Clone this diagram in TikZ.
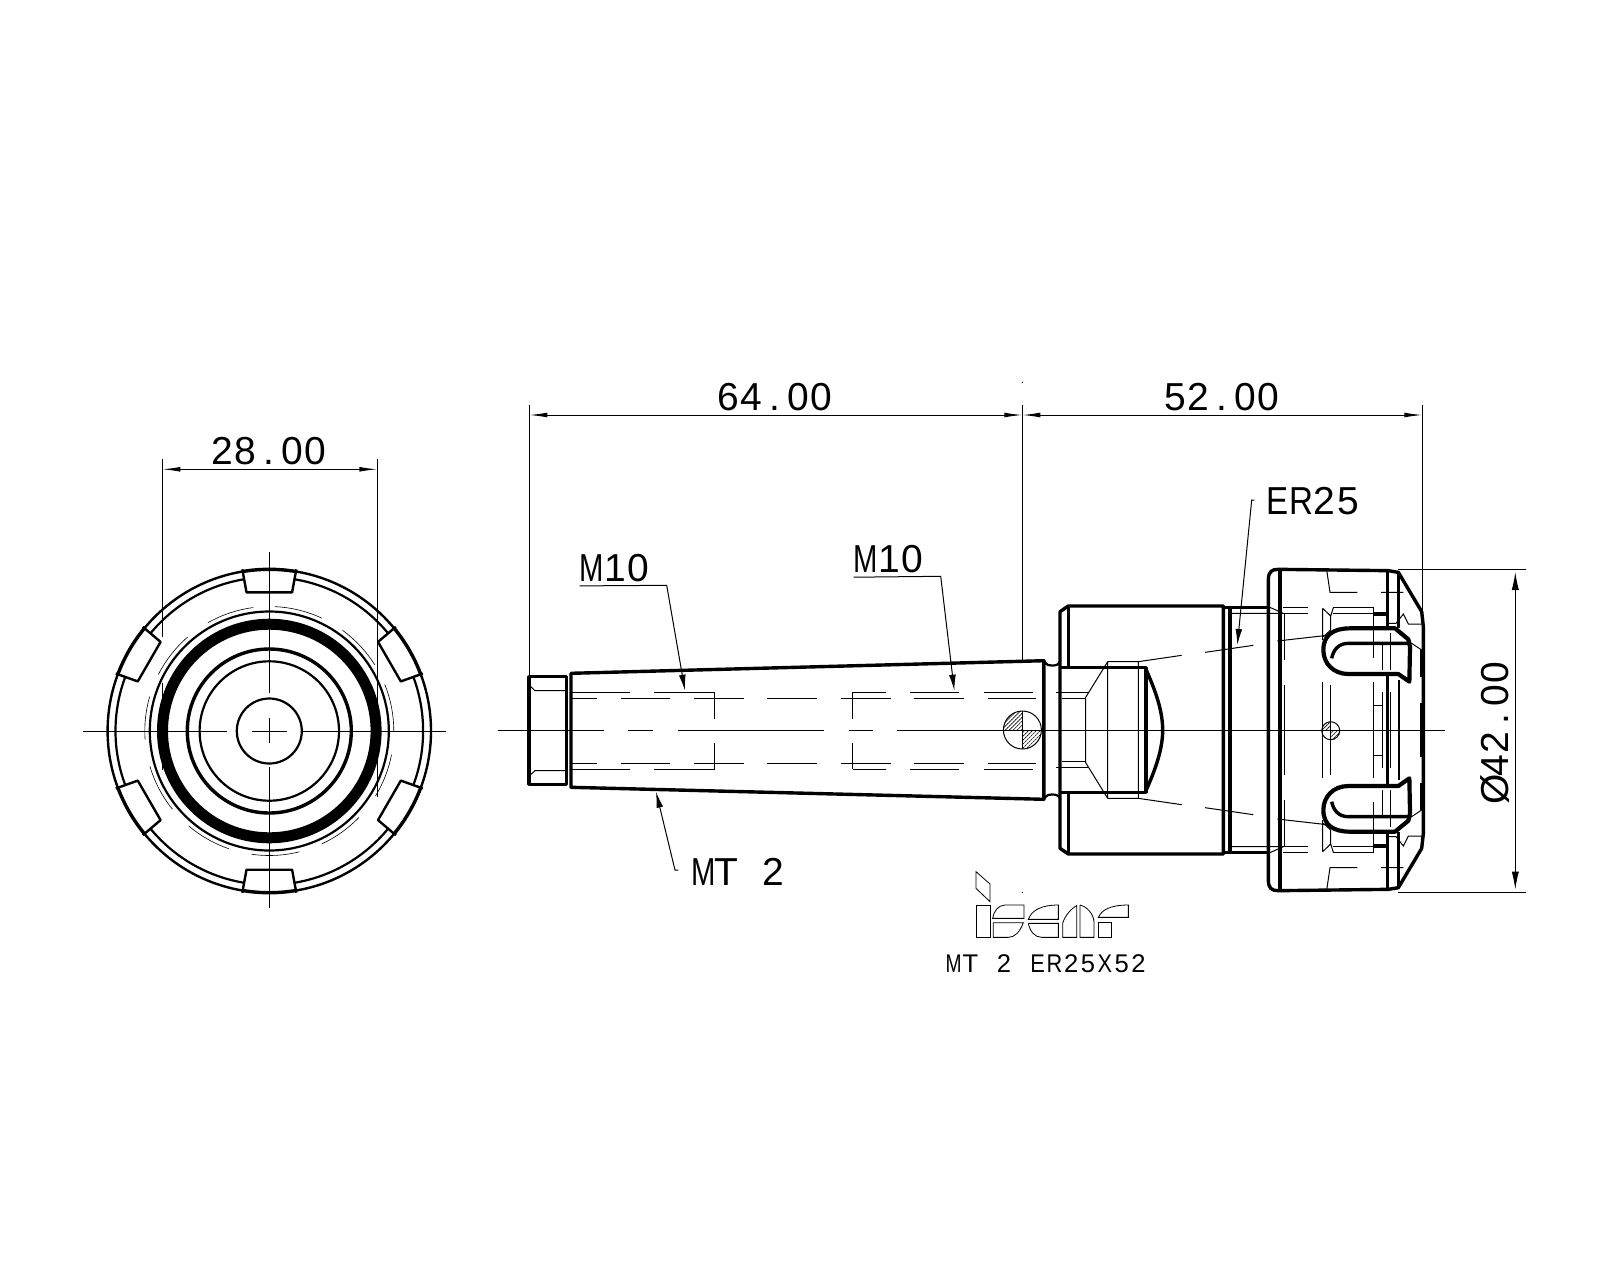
\documentclass[tikz,border=0pt]{standalone}
\usepackage{graphicx}
\usepackage{fontspec}
\usetikzlibrary{arrows.meta,patterns.meta}
\newfontfamily\cadfont{Liberation Sans}
\makeatletter
\newcommand\cadrow[2]{\@tfor\cadc:=#2\do{\makebox[#1]{\cadc}}}
\makeatother
\newcommand\cadm{\scalebox{.75}[1]{M}}
\newcommand\cade{\scalebox{.85}[1]{E}}
\newcommand\cadr{\scalebox{.85}[1]{R}}
\newcommand\cadx{\scalebox{.85}[1]{X}}
\tikzset{
  part/.style={line width=1.7pt,line join=round},
  slim/.style={line width=1.1pt,line join=round},
  fine/.style={line width=.5pt},
  dimh/.style={line width=.5pt,{Latex[length=9pt,width=2.4pt]}-{Latex[length=9pt,width=2.4pt]}},
  dimv/.style={line width=.5pt,{Latex[length=9pt,width=3.6pt]}-{Latex[length=9pt,width=3.6pt]}},
  leader/.style={line width=.5pt,-{Latex[length=8pt,width=3.4pt]}},
  lab/.style={inner sep=0pt,font=\cadfont\fontsize{19.5}{20}\selectfont},
  labsmall/.style={inner sep=0pt,font=\cadfont\fontsize{12.8}{14}\selectfont},
  hatchq/.style={pattern={Lines[angle=45,distance=1.4pt,line width=.3pt]}}
}
\begin{document}
\begin{tikzpicture}[x=.5pt,y=-.5pt]
\useasboundingbox (0,0) rectangle (1600,1280);

% end view
\begin{scope}[shift={(269.3,731)},yscale=-1]
  \draw[slim,line width=1.2pt] (0,0) circle (161.7);
  \draw[slim] (0,0) circle (153.8);
  \foreach \ang in {30,90,150,210,270,330}{
    \begin{scope}[rotate=\ang]
      \fill[white] (161.2,27) -- (138.7,22.8) -- (138.7,-22.8) -- (161.2,-27) -- cycle;
      \draw[slim,line width=1.2pt] (161.7,27) -- (138.7,22.8) -- (138.7,-22.8) -- (161.7,-27);
      \draw[part] (-9.5:161.7) arc (-9.5:9.5:161.7);
    \end{scope}
  }
  \draw[slim] (0,0) circle (32.5);
  \draw[slim] (0,0) circle (69.7);
  \draw[part] (0,0) circle (82);
  \draw[line width=5.5pt] (0,0) circle (106.8);
  \draw[slim] (0,0) circle (119.5);
  \foreach \sa/\ea in {97.4/119.6,65/87.4,32/54,131/153,164/184,196.6/218.9,229.7/251,261.8/284,295/316,328.5/349,0/22}
    \draw[line width=.3pt] (\sa:124.5) arc (\sa:\ea:124.5);
\end{scope}
\draw[fine] (83.3,731) -- (227.3,731) (252,731) -- (286.7,731) (302.7,731) -- (445.7,731);
\draw[fine] (269.3,552) -- (269.3,693.3) (269.3,718.3) -- (269.3,743.3) (269.3,766.7) -- (269.3,908.3);
\draw[fine] (162.3,459) -- (162.3,636.7) (162.3,683) -- (162.3,770);
\draw[fine] (377.3,459) -- (377.3,796.7);
\coordinate (w_l) at (162.3,469.3);
\coordinate (w_r) at (377.3,469.3);
\draw[dimh] (w_l) -- (w_r);
\node[lab] (lab_w) at (268.9,450.7) {\cadrow{.6em}{28.00}};

% shank
\draw[part] (566.6,676.7) -- (528.9,676.7) -- (528.9,784.3) -- (566.6,784.3) -- cycle;
\draw[part] (571,673.3) -- (1032.7,661) -- (1043.8,660.7) -- (1043.8,799.3) -- (1032.7,799) -- (571,787.3) -- cycle;
\draw[slim] (1043.8,660.7) .. controls (1047,666) and (1050,665.5) .. (1052,665.5) .. controls (1056,665.5) and (1059,665) .. (1060.5,660);
\draw[slim] (1043.8,799.3) .. controls (1047,794) and (1050,794.5) .. (1052,794.5) .. controls (1056,794.5) and (1059,795) .. (1060.5,800);
\draw[fine] (529,685) -- (535,690.7) -- (566,690.7) (529,776) -- (535,770.7) -- (566,770.7);
\foreach \yy in {692.3,769.3}{
  \draw[fine] (571,\yy) -- (629.5,\yy) (653.5,\yy) -- (714.6,\yy);
  \draw[fine] (852.6,\yy) -- (885.9,\yy) (909.5,\yy) -- (958.8,\yy) (983.5,\yy) -- (1032.7,\yy);
}
\foreach \yy in {698.3,763.3}{
  \foreach \xa/\xb in {572/597,621/670,694/744,767/817,841/891,914.4/963.6,987.6/1036.4}
    \draw[fine] (\xa,\yy) -- (\xb,\yy);
}
\draw[fine] (714.6,692.3) -- (714.6,719) (714.6,743.3) -- (714.6,769.3);
\draw[fine] (852.6,692.3) -- (852.6,719) (852.6,743.3) -- (852.6,769.3);
\begin{scope}[shift={(1022.4,730)},yscale=-1]
  \foreach \ang in {90,270}
    \fill[hatchq] (0,0) -- (\ang:19) arc (\ang:\ang+90:19) -- cycle;
  \draw[fine] (0,0) circle (19);
  \draw[fine] (0,19) -- (0,-19);
\end{scope}

% holder and nut, both halves
\foreach \sy in {1,-1}{
\begin{scope}[shift={(1040,730)},x=.16667pt,y={\sy*.16667pt}]
  \draw[part] (60,0) -- (60,355) -- (85,372) -- (550,372) -- (550,0);
  \draw[part] (85,372) -- (85,187);
  \draw[part] (60,187) -- (318,187) -- (318,0);
  \draw[part] (318,182) .. controls (345,120) and (368,60) .. (368,0);
  \draw[part] (570,0) -- (570,367) (550,367) -- (685,367);
  \draw[part] (685,0) -- (685,450) .. controls (685,475) and (695,482) .. (715,482) -- (1045,478) -- (1075,473) -- (1145,355) -- (1150,310) -- (1150,0);
  \draw[part] (720,0) -- (720,482);
  \draw[part] (1043,0) -- (1043,170) (1043,308) -- (1043,478);
  \draw[part] (1075,473) -- (1075,305);
  \draw[slim] (1078,0) -- (1078,150);
  \draw[part,line width=2.5pt] (1146,240) -- (1146,160) (1146,80) -- (1146,0);
  \draw[part] (1000,348) -- (1042,348);
  % slot
  \draw[part,line width=2.1pt] (1065,305) -- (930,305) .. controls (880,305) and (850,285) .. (850,240) .. controls (850,200) and (880,168) .. (925,168) -- (1075,168) -- (1108,145) -- (1110,250) -- (1105,272) -- cycle;
  \draw[part] (1105,260) -- (925,260) .. controls (895,260) and (880,240) .. (875,215);
  % thin detail
  \draw[fine] (570,350) -- (730,350) (685,370) -- (730,350);
  \draw[fine] (730,367) -- (805,367) (730,350) -- (805,350);
  \draw[fine] (860,480) -- (870,413) -- (952,413) (1023,413) -- (1090,413);
  \draw[fine] (880,367) -- (1000,367) -- (1000,215) (880,350) -- (1000,350);
  \draw[fine] (848,365) -- (872,342) -- (872,300) (848,365) -- (848,270) (872,342) -- (880,367);
  \draw[fine] (733,350) -- (733,210) (733,135) -- (733,0);
  \draw[fine] (848,145) -- (848,0) (872,135) -- (872,0) (1000,145) -- (1000,0);
  \draw[fine] (1028,260) -- (1028,180) (1050,290) -- (1050,180) (1028,113) -- (1028,0) (1052,113) -- (1052,0) (1000,75) -- (1028,75);
  \draw[fine] (1045,320) -- (1068,320) -- (1090,348) -- (1105,318) -- (1145,318);
  \draw[fine] (1100,270) -- (1145,240);
  \draw[fine] (850,280) -- (872,300);
  \draw[fine] (712,267) -- (870,285) (495,233) -- (640,254) (295,205) -- (425,224);
  \draw[fine] (203,205) -- (295,205) -- (295,0) (203,205) -- (203,0) (203,205) -- (137,98) -- (137,0);
  \draw[fine] (48,113) -- (145,113) (65,95) -- (137,95);
\end{scope}
}
\begin{scope}[shift={(1330.7,730.7)},yscale=-1]
  \foreach \ang in {90,270}
    \fill[hatchq] (0,0) -- (\ang:9) arc (\ang:\ang+90:9) -- cycle;
  \draw[fine] (0,0) circle (9);
\end{scope}

% axis
\draw[fine] (498,730) -- (603.6,730) (627.6,730) -- (652.8,730) (677.6,730) -- (823.7,730) (848.9,730) -- (872.9,730) (897,730) -- (1445,730);

% dimensions
\draw[fine] (529.3,405) -- (529.3,676.7);
\draw[fine] (1022.3,405) -- (1022.3,661.7);
\draw[fine] (1422.3,405) -- (1422.3,613);
\draw[fine] (1398,569.3) -- (1526,569.3);
\draw[fine] (1398,892.3) -- (1526,892.3);
\coordinate (l_a) at (529.3,415);
\coordinate (l_b) at (1022.3,415);
\coordinate (l_c) at (1422.3,415);
\coordinate (d_t) at (1515.3,572);
\coordinate (d_b) at (1515.3,889.5);
\draw[dimh] (l_a) -- (l_b);
\draw[dimh] (l_b) -- (l_c);
\draw[dimv] (d_t) -- (d_b);
\node[lab] (lab_a) at (775,397) {\cadrow{.6em}{64.00}};
\node[lab] (lab_b) at (1222,397) {\cadrow{.6em}{52.00}};
\node[lab,rotate=90] (lab_d) at (1495.5,731) {\cadrow{.6em}{Ø42.00}};
\fill (1022.3,382.3) circle (.7);

% callouts
\node[lab] (lab_m1) at (615,567.7) {\cadrow{.6em}{\cadm 10}};
\node[lab] (lab_m2) at (889,559) {\cadrow{.6em}{\cadm 10}};
\node[lab] (lab_er) at (1313,500.7) {\cadrow{.6em}{\cade\cadr 25}};
\node[lab] (lab_mt) at (738.3,871.7) {\cadrow{.6em}{\cadm T~2}};
\coordinate (t_m1) at (685,690.7);
\coordinate (t_m2) at (954.3,690.7);
\coordinate (t_er) at (1237.3,645);
\coordinate (t_mt) at (656,791.7);
\draw[leader] (lab_m1.south west) ++(0,4) -- (666.7,585.3) -- (t_m1);
\draw[leader] (lab_m2.south west) ++(0,4) -- (940.7,576.3) -- (t_m2);
\draw[leader] (1254.3,500) -- (1251.7,500) -- (t_er);
\draw[leader] (678.3,870) -- (675,870) -- (t_mt);

% logo
\begin{scope}[shift={(930,860)},x=.16667pt,y=-.16667pt,line width=.4pt]
  \draw (138,35) -- (180,72) -- (180,125) -- (138,85) -- cycle;
  \draw (138,135) rectangle (180,232);
  \draw (282,135) -- (225,135) .. controls (205,135) and (190,155) .. (188,175) -- (282,175) -- cycle;
  \draw (190,188) -- (280,188) .. controls (270,215) and (255,232) .. (235,232) -- (190,232) -- cycle;
  \draw (295,178) .. controls (305,150) and (335,135) .. (385,135) -- (385,178) -- cycle;
  \draw (295,190) -- (385,190) -- (385,232) -- (335,232) .. controls (315,232) and (300,215) .. (295,190);
  \draw (398,232) -- (398,190) .. controls (405,165) and (425,145) .. (440,137) -- (440,232) -- cycle;
  \draw (450,135) -- (450,232) -- (492,232) -- (492,185) .. controls (490,160) and (470,140) .. (450,135);
  \draw (505,172) .. controls (515,150) and (540,135) .. (595,135) -- (595,172) -- cycle;
  \draw (505,188) rectangle (543,232);
  \fill (277,97) circle (2);
\end{scope}
\node[labsmall] (lab_type) at (1046,964) {\cadrow{.657em}{\cadm T~2~\cade\cadr 25\cadx 52}};
\end{tikzpicture}
\end{document}
